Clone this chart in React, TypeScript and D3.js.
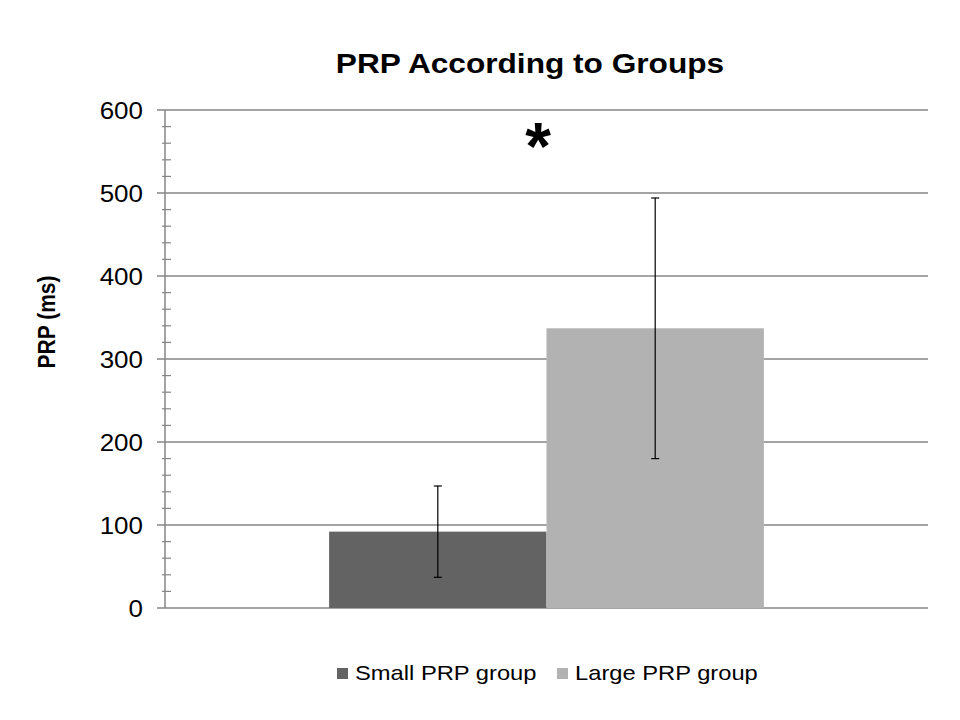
import * as d3 from "d3";

const series = ["Small PRP group", "Large PRP group"];
const means = [92, 337];
const errors = [55, 157];
const colors = ["#636363", "#b2b2b2"];
const yTicks = [0, 100, 200, 300, 400, 500, 600];

const W = 960;
const H = 720;
const PLOT = { left: 165, right: 928, top: 110, bottom: 608 };
// the reference text is a bit wider than Arial, stretch it horizontally
const SX = 1.13;

export default function App() {
  const y = d3.scaleLinear().domain([0, 600]).range([PLOT.bottom, PLOT.top]);
  // single category group, split into two adjacent bars
  const x = d3
    .scaleBand<string>()
    .domain(series)
    .range([PLOT.left, PLOT.right])
    .paddingOuter(0.755)
    .paddingInner(0);
  const minorTicks = d3.range(0, 601, 20).filter((v) => v % 100 !== 0);
  const font = "Arial, 'Liberation Sans', sans-serif";

  return (
    <svg width={W} height={H} style={{ position: "absolute", left: 0, top: 0, background: "#fff" }} fontFamily={font}>
      <text transform={`translate(530, 73) scale(${SX}, 1)`} textAnchor="middle" fontSize={28} fontWeight="bold">
        PRP According to Groups
      </text>

      {yTicks.map((t) => (
        <g key={t}>
          <line x1={157} x2={PLOT.right} y1={y(t)} y2={y(t)} stroke="#868686" strokeWidth={1.5} />
          <text transform={`translate(143, ${y(t) + 8.5}) scale(${SX}, 1)`} textAnchor="end" fontSize={23}>
            {t}
          </text>
        </g>
      ))}
      {minorTicks.map((t) => (
        <line key={t} x1={162} x2={171} y1={y(t)} y2={y(t)} stroke="#868686" strokeWidth={1.2} />
      ))}
      <line x1={PLOT.left} x2={PLOT.left} y1={PLOT.top} y2={PLOT.bottom} stroke="#868686" strokeWidth={1.5} />

      {series.map((s, i) => {
        const bx = x(s) as number;
        const cx = bx + x.bandwidth() / 2;
        return (
          <g key={s}>
            <rect x={bx} y={y(means[i])} width={x.bandwidth()} height={y(0) - y(means[i])} fill={colors[i]} />
            <line x1={cx} x2={cx} y1={y(means[i] + errors[i])} y2={y(means[i] - errors[i])} stroke="#000" strokeWidth={1.2} />
            <line x1={cx - 4} x2={cx + 4} y1={y(means[i] + errors[i])} y2={y(means[i] + errors[i])} stroke="#000" strokeWidth={1.2} />
            <line x1={cx - 4} x2={cx + 4} y1={y(means[i] - errors[i])} y2={y(means[i] - errors[i])} stroke="#000" strokeWidth={1.2} />
          </g>
        );
      })}

      <text x={538} y={169} textAnchor="middle" fontSize={66} fontWeight="bold">
        *
      </text>

      <text transform={`translate(55, 322) scale(${SX}, 1) rotate(-90)`} textAnchor="middle" fontSize={21} fontWeight="bold">
        PRP (ms)
      </text>

      {series.map((s, i) => {
        const lx = [337, 557][i];
        return (
          <g key={s}>
            <rect x={lx} y={668} width={11} height={11} fill={colors[i]} />
            <text transform={`translate(${lx + 18}, 680) scale(${SX}, 1)`} fontSize={21}>
              {s}
            </text>
          </g>
        );
      })}
    </svg>
  );
}
